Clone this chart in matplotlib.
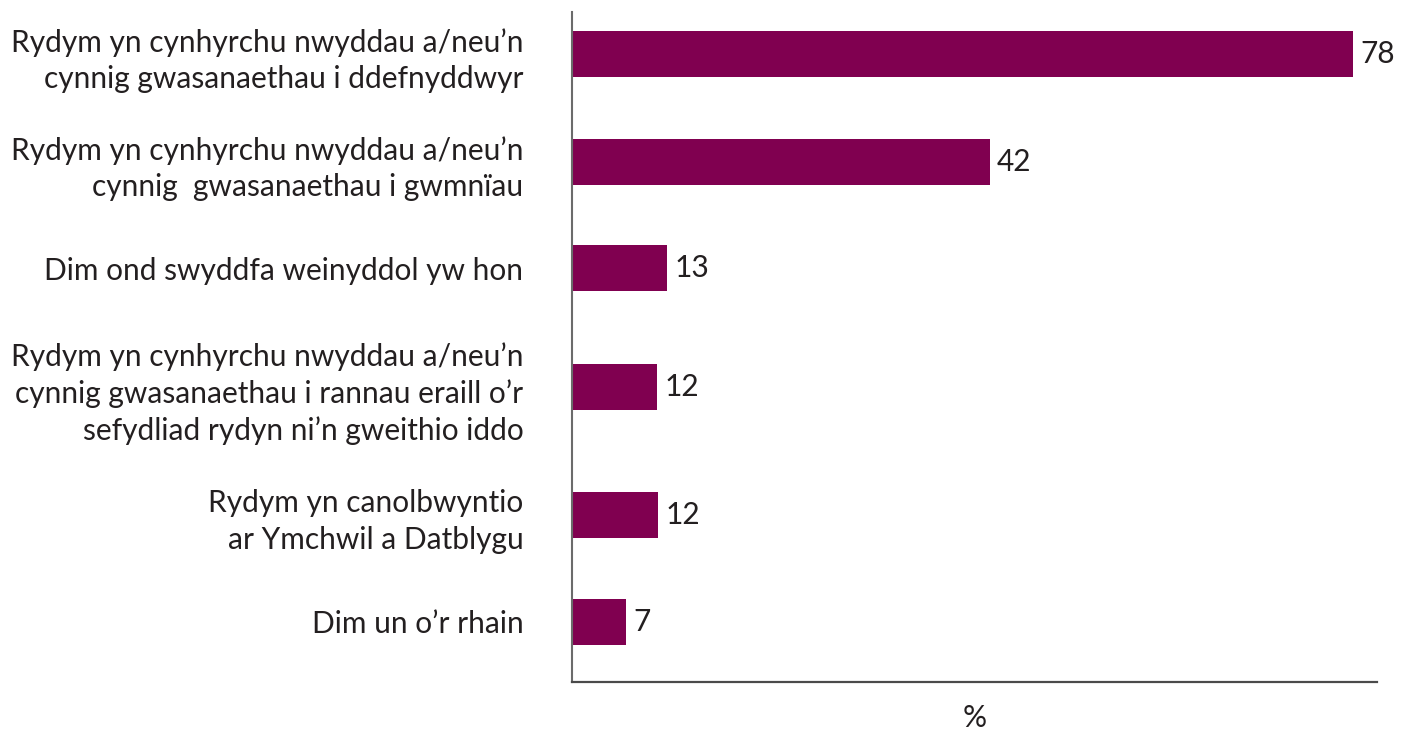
import matplotlib
matplotlib.use("Agg")
import matplotlib.pyplot as plt

plt.rcParams['font.family'] = ['Lato', 'DejaVu Sans']

categories = [
    "Rydym yn cynhyrchu nwyddau a/neu’n\ncynnig gwasanaethau i ddefnyddwyr",
    "Rydym yn cynhyrchu nwyddau a/neu’n\ncynnig  gwasanaethau i gwmnïau",
    "Dim ond swyddfa weinyddol yw hon",
    "Rydym yn cynhyrchu nwyddau a/neu’n\ncynnig gwasanaethau i rannau eraill o’r\nsefydliad rydyn ni’n gweithio iddo",
    "Rydym yn canolbwyntio\nar Ymchwil a Datblygu",
    "Dim un o’r rhain",
]
# bar lengths as drawn in the picture
values = [78, 41.7, 9.5, 8.5, 8.6, 5.4]
# numbers printed next to the bars
value_labels = ["78", "42", "13", "12", "12", "7"]

# layout: vertical slot of each bar (uneven in the original)
ypos = [0.376, 1.343, 2.293, 3.358, 4.504, 5.462]

bar_color = "#800050"
text_color = "#231f20"
fsize = 21.5

fig = plt.figure(figsize=(14.09, 7.33), dpi=100)
ax = fig.add_axes([572/1409, 1-682/733, (1377-572)/1409, (682-12)/733])

ax.barh(ypos, values, height=0.412, color=bar_color)

for y, v, lab in zip(ypos, values, value_labels):
    ax.annotate(lab, (v, y), xytext=(5.5, 0), textcoords="offset points",
                ha="left", va="center", fontsize=fsize, color=text_color)

ax.set_xlim(0, 80.4)
ax.set_ylim(6, 0)
ax.set_yticks(ypos)
ax.set_yticklabels(categories, fontsize=fsize, color=text_color, linespacing=1.36,
                   ha="right")
ax.tick_params(axis="y", length=0, pad=35)
ax.set_xticks([])

for s in ["top", "right"]:
    ax.spines[s].set_visible(False)
ax.spines["left"].set_color("#6b6b6b")
ax.spines["left"].set_linewidth(1.5)
ax.spines["bottom"].set_color("#4a4a4a")
ax.spines["bottom"].set_linewidth(1.6)

# x label sits at the very bottom edge, as in the original
fig.text((572+1377)/2/1409, 1-704/733, "%", ha="center", va="top",
         fontsize=fsize, color=text_color)

fig.savefig("out.png", dpi=100)
